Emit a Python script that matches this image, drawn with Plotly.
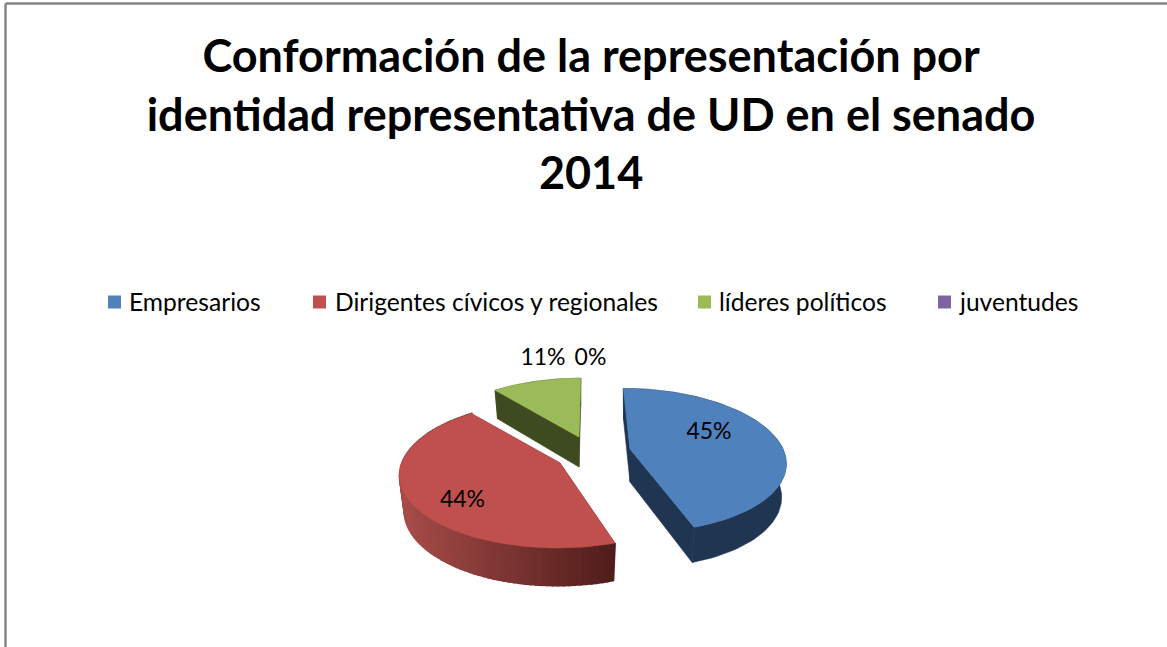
import numpy as np
import plotly.graph_objects as go

categories = ["Empresarios", "Dirigentes cívicos y regionales", "líderes políticos", "juventudes"]
values = [45, 44, 11, 0]
top_colors = ["#4F81BD", "#C0504D", "#9BBB59", "#8064A2"]
wall_colors = ["#1F3552", "#7A2F2D", "#3E4A20", "#4B3A60"]
title_lines = ["Conformación de la representación por",
               "identidad representativa de UD en el senado", "2014"]

# layout of the drawing, in figure pixels
W, H = 1167, 647
legend_x = [114.5, 319.5, 704.5, 944.5]
legend_text_x = [127, 332.5, 717, 957]
legend_y = 302
label_pos = [(709, 433), (462.5, 501), (543, 359.5), (590.5, 359.5)]
centers = [(630, 449), (560, 463), (579, 437), (579, 437)]
shear = [0.11, -0.03, -0.03, 0.0]
rx = [153, 158, 150, 150]
ry = [70, 71.7, 68, 68]
depth = [33, 35, 30, 30]
PERSP = 0.156

FONT = "Lato, Carlito, Calibri, sans-serif"


def project(theta, i, base=False):
    u, v = np.sin(theta), np.cos(theta)
    w = 1 + PERSP * v
    x, y = rx[i] * u / w, -ry[i] * v / w
    x = x + shear[i] * y
    if base:
        return centers[i][0] + 0.97 * x, centers[i][1] + 1.03 * y + depth[i]
    return centers[i][0] + x, centers[i][1] + y


def apex(i, base=False):
    return centers[i][0], centers[i][1] + (depth[i] if base else 0)


def poly(fig, xs, ys, color, name, lw=0.6):
    fig.add_trace(go.Scatter(x=list(xs), y=list(ys), mode="lines", fill="toself",
                             fillcolor=color, line=dict(color=color, width=lw),
                             name=name, showlegend=False, hoverinfo="skip"))


def mix(a, b, t):
    ca = [int(a[k:k + 2], 16) for k in (1, 3, 5)]
    cb = [int(b[k:k + 2], 16) for k in (1, 3, 5)]
    return "rgb(%d,%d,%d)" % tuple(round(p + (q - p) * t) for p, q in zip(ca, cb))


fig = go.Figure()
total = sum(values)
starts = np.cumsum([0] + values[:-1]) / total * 2 * np.pi
ends = np.cumsum(values) / total * 2 * np.pi

# back to front: green, red, blue
for i in [2, 1, 0]:
    name = categories[i]
    a0, a1 = starts[i], ends[i]
    ax, ay = apex(i)
    bx, by = apex(i, True)
    # radial faces
    for ang in (a0, a1):
        tx, ty = project(ang, i)
        qx, qy = project(ang, i, True)
        poly(fig, [ax, tx, qx, bx, ax], [ay, ty, qy, by, ay], wall_colors[i], name)
    # outer wall
    th = np.linspace(a0, a1, 90)
    if i == 1:
        for k in range(len(th) - 1):
            x0, y0 = project(th[k], i)
            x1, y1 = project(th[k + 1], i)
            x2, y2 = project(th[k + 1], i, True)
            x3, y3 = project(th[k], i, True)
            t = np.clip((614 - (x0 + x1) / 2) / 216, 0, 1)
            poly(fig, [x0, x1, x2, x3, x0], [y0, y1, y2, y3, y0],
                 mix("#4F1D1B", "#A84C49", t), name, lw=2)
    else:
        tx, ty = project(th, i)
        qx, qy = project(th[::-1], i, True)
        poly(fig, np.r_[tx, qx, tx[0]], np.r_[ty, qy, ty[0]], wall_colors[i], name)
    # top face
    tx, ty = project(th, i)
    poly(fig, np.r_[ax, tx, ax], np.r_[ay, ty, ay], top_colors[i], name)

# percentage labels
fig.add_trace(go.Scatter(x=[p[0] for p in label_pos], y=[p[1] for p in label_pos],
                         mode="text", text=[f"{v}%" for v in values],
                         textposition="middle center",
                         textfont=dict(family=FONT, size=23, color="#000000"),
                         showlegend=False, hoverinfo="skip"))

# legend
for i, c in enumerate(categories):
    fig.add_trace(go.Scatter(x=[legend_x[i]], y=[legend_y], mode="markers",
                             marker=dict(symbol="square", size=13, color=top_colors[i]),
                             showlegend=False, hoverinfo="skip"))
    fig.add_annotation(x=legend_text_x[i], y=legend_y - 1, text=c, xanchor="left", yanchor="middle",
                       showarrow=False, font=dict(family=FONT, size=24.6, color="#000000"),
                       xref="x", yref="y")

fig.update_layout(
    width=W, height=H, margin=dict(l=0, r=0, t=0, b=0),
    paper_bgcolor="#FFFFFF", plot_bgcolor="#FFFFFF", showlegend=False,
    title=dict(text="<br>".join(title_lines), x=0.5065, xanchor="center", y=0.888, yanchor="top",
               font=dict(family=FONT, size=45, color="#000000", weight="bold")),
    xaxis=dict(range=[0, W], visible=False, fixedrange=True),
    yaxis=dict(range=[H, 0], visible=False, fixedrange=True),
    shapes=[dict(type="line", x0=5.5, y0=3.5, x1=W, y1=3.5, line=dict(color="#868686", width=2.5)),
            dict(type="line", x0=5.5, y0=3.5, x1=5.5, y1=H, line=dict(color="#868686", width=2.5))],
)
fig.write_html("out.html", config={"displayModeBar": False},
               post_script="document.body.style.margin='0';")
